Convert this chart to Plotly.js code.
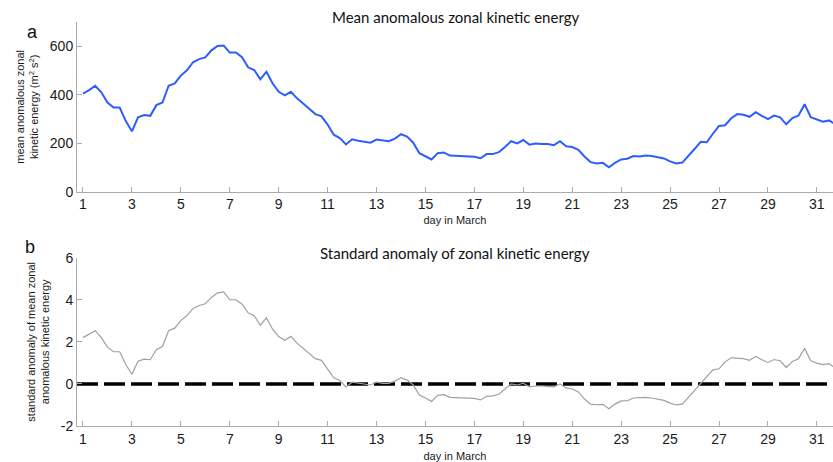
<!DOCTYPE html>
<html>
<head>
<meta charset="utf-8">
<script src="https://cdn.plot.ly/plotly-3.0.1.min.js"></script>
<style>html,body{margin:0;padding:0;background:#fff;}#chart{width:833px;height:462px;}</style>
</head>
<body>
<div id="chart"></div>
<script>
// Time axis: 6-hourly steps, day in March
var days = [1,1.25,1.5,1.75,2,2.25,2.5,2.75,3,3.25,3.5,3.75,4,4.25,4.5,4.75,5,5.25,5.5,5.75,6,6.25,6.5,6.75,7,7.25,7.5,7.75,8,8.25,8.5,8.75,9,9.25,9.5,9.75,10,10.25,10.5,10.75,11,11.25,11.5,11.75,12,12.25,12.5,12.75,13,13.25,13.5,13.75,14,14.25,14.5,14.75,15,15.25,15.5,15.75,16,16.25,16.5,16.75,17,17.25,17.5,17.75,18,18.25,18.5,18.75,19,19.25,19.5,19.75,20,20.25,20.5,20.75,21,21.25,21.5,21.75,22,22.25,22.5,22.75,23,23.25,23.5,23.75,24,24.25,24.5,24.75,25,25.25,25.5,25.75,26,26.25,26.5,26.75,27,27.25,27.5,27.75,28,28.25,28.5,28.75,29,29.25,29.5,29.75,30,30.25,30.5,30.75,31,31.25,31.5,31.75];

// Panel a: mean anomalous zonal kinetic energy (m2 s2)
var meanKE = [405,419,437,410,368,347,347,291,249,307,316,313,357,368,437,447,479,501,534,547,554,583,601,603,574,574,555,513,502,464,495,447,412,397,412,385,364,340,320,311,277,235,221,195,216,210,205,202,215,210,208,219,237,227,202,159,147,133,159,162,149,147,145,144,144,138,155,155,163,184,208,199,213,194,199,197,197,192,208,187,184,173,145,122,116,119,101,119,133,136,147,145,149,147,141,137,125,116,120,147,176,206,204,239,271,274,303,320,317,309,328,313,299,314,307,278,304,314,361,307,299,289,294,278];

// Panel b: standard anomaly
var stdAnom = [2.20,2.36,2.53,2.20,1.75,1.53,1.53,0.92,0.46,1.08,1.18,1.15,1.64,1.78,2.53,2.65,3.01,3.25,3.59,3.73,3.81,4.11,4.33,4.37,4.00,4.00,3.79,3.38,3.24,2.79,3.14,2.60,2.25,2.07,2.26,1.94,1.69,1.43,1.20,1.12,0.72,0.29,0.16,-0.14,0.08,0.03,0.00,-0.05,0.08,0.03,0.03,0.13,0.30,0.18,-0.05,-0.53,-0.67,-0.83,-0.54,-0.51,-0.64,-0.65,-0.69,-0.70,-0.69,-0.76,-0.59,-0.57,-0.49,-0.24,0.00,-0.05,0.03,-0.14,-0.10,-0.10,-0.11,-0.14,0.00,-0.19,-0.24,-0.38,-0.72,-0.96,-0.99,-0.97,-1.18,-0.96,-0.81,-0.80,-0.67,-0.65,-0.64,-0.67,-0.73,-0.78,-0.91,-1.00,-0.96,-0.64,-0.32,0.00,0.32,0.67,0.72,1.05,1.24,1.22,1.20,1.12,1.31,1.15,1.02,1.16,1.10,0.78,1.07,1.20,1.69,1.10,0.99,0.92,0.96,0.76];

// Reference line
var refX = [0.755, 31.75];
var refY = [0, 0];

var xTicks = [1,3,5,7,9,11,13,15,17,19,21,23,25,27,29,31];
var yTicksA = [0,200,400,600];
var yTicksB = [-2,0,2,4,6];

var titleA = 'Mean anomalous zonal kinetic energy';
var titleB = 'Standard anomaly of zonal kinetic energy';
var yTitleA = 'mean anomalous zonal<br>kinetic energy (m<sup>2</sup> s<sup>2</sup>)';
var yTitleB = 'standard anomaly of mean zonal<br>anomalous kinetic energy';
var xTitle = 'day in March';

var axCol = '#ababab';
var tickFont = {family: 'Liberation Sans, Arial, sans-serif', size: 14, color: '#1a1a1a'};
var labFont = {family: 'Liberation Sans, Arial, sans-serif', size: 11, color: '#1a1a1a'};

var traces = [
  {x: days, y: meanKE, xaxis: 'x', yaxis: 'y', mode: 'lines', line: {color: '#2f5cff', width: 2}, hoverinfo: 'x+y'},
  {x: refX, y: refY, xaxis: 'x2', yaxis: 'y2', mode: 'lines', line: {color: '#000000', width: 3.5, dash: '21px,6px'}, hoverinfo: 'skip'},
  {x: days, y: stdAnom, xaxis: 'x2', yaxis: 'y2', mode: 'lines', line: {color: '#a0a0a0', width: 1.2}, hoverinfo: 'x+y'}
];

function xAxis(anchor, standoff) {
  return {
    anchor: anchor, range: [0.755, 31.66], tickmode: 'array', tickvals: xTicks, ticktext: xTicks.map(String),
    ticks: 'inside', ticklen: 5, tickcolor: axCol, showline: true, linecolor: axCol, linewidth: 1,
    showgrid: false, zeroline: false, tickfont: tickFont,
    title: {text: xTitle, font: labFont, standoff: standoff}
  };
}
function yAxis(anchor, domain, range, ticks, title) {
  return {
    anchor: anchor, domain: domain, range: range, tickmode: 'array', tickvals: ticks, ticktext: ticks.map(String),
    ticks: 'inside', ticklen: 5, tickcolor: axCol, showline: true, linecolor: axCol, linewidth: 1,
    showgrid: false, zeroline: false, tickfont: tickFont,
    title: {text: title, font: labFont, standoff: 8}
  };
}

var layout = {
  width: 833, height: 462,
  margin: {l: 77, r: 0, t: 22, b: 36},
  paper_bgcolor: '#ffffff', plot_bgcolor: '#ffffff',
  showlegend: false,
  xaxis: xAxis('y', 4),
  yaxis: yAxis('x', [0.58, 1], [0, 700], yTicksA, yTitleA),
  xaxis2: xAxis('y2', 7),
  yaxis2: yAxis('x2', [0, 0.4166], [-2, 6], yTicksB, yTitleB),
  annotations: [
    {text: titleA, xref: 'paper', yref: 'paper', x: 0.5, y: 1, yshift: 5, xanchor: 'center', yanchor: 'middle', showarrow: false,
     font: {family: 'Lato, Open Sans, sans-serif', size: 15, color: '#111'}},
    {text: titleB, xref: 'paper', yref: 'paper', x: 0.5, y: 0.4166, yshift: 5, xanchor: 'center', yanchor: 'middle', showarrow: false,
     font: {family: 'Lato, Open Sans, sans-serif', size: 15, color: '#111'}},
    {text: 'a', xref: 'paper', yref: 'paper', x: 0, y: 1, xshift: -45, yshift: -10, xanchor: 'center', yanchor: 'middle', showarrow: false,
     font: {family: 'Liberation Sans, Arial, sans-serif', size: 18, color: '#111'}},
    {text: 'b', xref: 'paper', yref: 'paper', x: 0, y: 0.4166, xshift: -47, yshift: 11, xanchor: 'center', yanchor: 'middle', showarrow: false,
     font: {family: 'Liberation Sans, Arial, sans-serif', size: 18, color: '#111'}}
  ]
};

Plotly.newPlot('chart', traces, layout, {displayModeBar: false, staticPlot: true});
</script>
</body>
</html>
